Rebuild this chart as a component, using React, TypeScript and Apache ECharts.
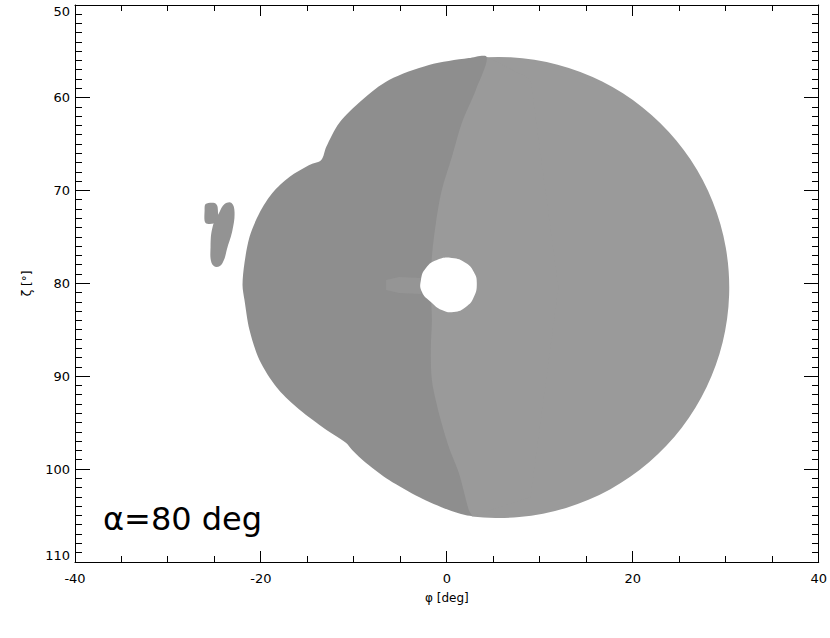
import React, { useEffect, useRef } from "react";
import * as echarts from "echarts";

// Tick values
const xTicks = [-40, -20, 0, 20, 40];
const yTicks = [50, 60, 70, 80, 90, 100, 110];
const xMinorStep = 5;
const yMinorStep = 1;

// Main (lighter) disc: centre [phi, zeta] and radius (deg)
const discCenter = [5.58, 80.43];
const discRadius = 24.83;

// Dark/light boundary inside the disc, top to bottom [phi, zeta]
const boundaryCurve: number[][] = [
  [4.29, 55.6], [3.11, 59.16], [1.61, 62.71], [0.54, 66.37], [-0.54, 69.93],
  [-1.18, 73.48], [-1.61, 77.15], [-1.72, 80.7], [-1.61, 83.93], [-1.72, 86.84],
  [-1.61, 90.4], [-0.86, 93.95], [0.21, 97.61], [1.29, 100.41], [2.36, 104.4],
  [2.68, 105.05],
];

// Under-fill for the light part (right side inside the disc, left side hidden by the dark part)
const lightFillRight: number[][] = [[9.0, 58.0], [12.0, 80.43], [9.0, 103.0]];
const lightFillLeft: number[][] = [[-6.0, 100.0], [-8.0, 80.0], [-6.0, 60.0]];

// Outer outline of the darker region, bottom to top along the left side
const darkOuterLeft: number[][] = [
  [0.21, 104.4], [-3.0, 103.0], [-6.22, 101.17], [-8.69, 99.34], [-10.19, 97.94],
  [-10.83, 97.18], [-13.4, 95.46], [-16.19, 93.31], [-18.34, 91.15], [-20.16, 88.24],
  [-21.23, 85.01], [-21.77, 81.78], [-21.98, 80.16], [-21.77, 77.79], [-21.23, 74.99],
  [-20.16, 72.41], [-18.77, 70.25], [-16.94, 68.53], [-14.8, 67.24], [-13.51, 66.7],
  [-12.98, 65.3], [-11.58, 62.71], [-9.12, 60.23], [-6.22, 58.08], [-1.93, 56.46],
  [2.36, 55.71],
];

const holeOutline: number[][] = [
  [0.54, 77.25], [2.04, 77.79], [2.9, 78.76], [3.22, 79.95], [2.9, 81.46],
  [2.04, 82.53], [0.75, 83.07], [-0.54, 82.86], [-1.72, 81.99], [-2.68, 80.92],
  [-2.79, 79.62], [-2.25, 78.33], [-1.07, 77.47],
];

const smudgeOutline: number[][] = [
  [-6.54, 79.62], [-5.15, 79.3], [-2.79, 79.41], [-2.79, 81.13], [-5.15, 81.02], [-6.54, 80.7],
];

const blobA: number[][] = [
  [-25.95, 71.44], [-24.99, 71.33], [-24.66, 71.76], [-24.77, 73.38], [-25.95, 73.48], [-26.06, 72.08],
];

const blobB: number[][] = [
  [-23.16, 71.33], [-22.84, 72.3], [-23.06, 74.24], [-23.59, 76.07], [-24.13, 77.79],
  [-24.77, 78.22], [-25.31, 77.79], [-25.42, 76.07], [-25.2, 73.92], [-24.45, 72.3], [-23.91, 71.44],
];

const LIGHT = "#9a9a9a";
const DARK = "#8e8e8e";

function polySeries(name: string, pts: number[][], fill: string, smooth = 0) {
  return {
    type: "custom",
    name,
    xAxisIndex: 0,
    yAxisIndex: 0,
    data: pts,
    silent: true,
    z: 2,
    renderItem: (params: any, api: any) => {
      if (params.dataIndex !== 0) return null;
      const points = pts.map((p) => api.coord(p));
      return {
        type: "polygon",
        shape: { points, smooth },
        style: { fill, stroke: null },
      };
    },
  };
}

const lightSectorSeries = {
  type: "custom",
  name: "lightSector",
  xAxisIndex: 0,
  yAxisIndex: 0,
  data: [[discCenter[0], discCenter[1], discRadius]],
  silent: true,
  z: 2,
  renderItem: (params: any, api: any) => {
    const c = api.coord([api.value(0), api.value(1)]);
    const r = api.size([0, api.value(2)])[1];
    const top = api.coord(boundaryCurve[0]);
    const bot = api.coord(boundaryCurve[boundaryCurve.length - 1]);
    const a0 = Math.atan2(top[1] - c[1], top[0] - c[0]);
    const a1 = Math.atan2(bot[1] - c[1], bot[0] - c[0]);
    return {
      type: "sector",
      shape: { cx: c[0], cy: c[1], r, r0: 0, startAngle: a0, endAngle: a1, clockwise: true },
      style: { fill: LIGHT, stroke: null },
    };
  },
};

const lightInnerSeries = {
  type: "custom",
  name: "lightInner",
  xAxisIndex: 0,
  yAxisIndex: 0,
  data: [discCenter],
  silent: true,
  z: 2,
  renderItem: (params: any, api: any) => {
    const pts = [
      api.coord(boundaryCurve[0]),
      ...lightFillRight.map((p) => api.coord(p)),
      api.coord(boundaryCurve[boundaryCurve.length - 1]),
      ...lightFillLeft.map((p) => api.coord(p)),
    ];
    return {
      type: "polygon",
      shape: { points: pts },
      style: { fill: LIGHT, stroke: null },
    };
  },
};

// Tick marks inside the frame on all four sides, drawn as thin filled rects
function minorValues(major: number[], step: number) {
  const out: number[] = [];
  for (let i = 0; i < major.length - 1; i++) {
    for (let v = major[i] + step; v < major[i + 1] - 1e-9; v += step) out.push(v);
  }
  return out;
}
const xMinorTicks = minorValues(xTicks, xMinorStep);
const yMinorTicks = minorValues(yTicks, yMinorStep);

function tickSeries(name: string, axis: "x" | "y", values: number[], len: number) {
  return {
    type: "custom",
    name,
    xAxisIndex: 0,
    yAxisIndex: 0,
    data: values.map((v) => (axis === "x" ? [v, 80] : [0, v])),
    silent: true,
    z: 20,
    clip: false,
    renderItem: (params: any, api: any) => {
      const style = { fill: "#000", stroke: null };
      if (axis === "x") {
        const v = api.value(0);
        const b = api.coord([v, yTicks[yTicks.length - 1]]);
        const t = api.coord([v, yTicks[0]]);
        const x = Math.floor(b[0]);
        return {
          type: "group",
          children: [
            { type: "rect", shape: { x, y: Math.round(b[1] - len), width: 1, height: Math.round(len) }, style },
            { type: "rect", shape: { x, y: Math.round(t[1]), width: 1, height: Math.round(len) }, style },
          ],
        };
      }
      const v = api.value(1);
      const l = api.coord([xTicks[0], v]);
      const r = api.coord([xTicks[xTicks.length - 1], v]);
      const y = Math.floor(l[1]);
      return {
        type: "group",
        children: [
          { type: "rect", shape: { x: Math.round(l[0]), y, width: Math.round(len), height: 1 }, style },
          { type: "rect", shape: { x: Math.round(r[0] - len), y, width: Math.round(len), height: 1 }, style },
        ],
      };
    },
  };
}

const fontFamily = "DejaVu Sans";

function xAxisDef(pos: string, labels: boolean) {
  return {
    type: "value",
    min: xTicks[0],
    max: xTicks[xTicks.length - 1],
    interval: 20,
    position: pos,
    name: labels ? "φ [deg]" : "",
    nameLocation: "middle",
    nameGap: 30,
    nameTextStyle: { color: "#000", fontFamily, fontSize: 12 },
    axisLine: { show: true, onZero: false, lineStyle: { color: "#000", width: 1 } },
    axisTick: { show: false },
    minorTick: { show: false },
    splitLine: { show: false },
    minorSplitLine: { show: false },
    axisLabel: { show: labels, color: "#000", fontFamily, fontSize: 13, margin: 10 },
  };
}

function yAxisDef(pos: string, labels: boolean) {
  return {
    type: "value",
    inverse: true,
    min: yTicks[0],
    max: yTicks[yTicks.length - 1],
    interval: 10,
    position: pos,
    name: labels ? "ζ [°]" : "",
    nameLocation: "middle",
    nameGap: 42,
    nameTextStyle: { color: "#000", fontFamily, fontSize: 12 },
    axisLine: { show: true, onZero: false, lineStyle: { color: "#000", width: 1 } },
    axisTick: { show: false },
    minorTick: { show: false },
    splitLine: { show: false },
    minorSplitLine: { show: false },
    axisLabel: {
      show: labels,
      color: "#000",
      fontFamily,
      fontSize: 13,
      margin: 5,
      verticalAlignMinLabel: "top",
      verticalAlignMaxLabel: "bottom",
    },
  };
}

export default function App() {
  const ref = useRef<HTMLDivElement>(null);
  useEffect(() => {
    if (!ref.current) return;
    const chart = echarts.init(ref.current, null, { renderer: "svg" });
    chart.setOption({
      animation: false,
      backgroundColor: "#fff",
      grid: { left: 75, right: 9, top: 5, bottom: 76, containLabel: false },
      xAxis: [xAxisDef("bottom", true), xAxisDef("top", false)],
      yAxis: [yAxisDef("left", true), yAxisDef("right", false)],
      series: [
        lightSectorSeries,
        lightInnerSeries,
        polySeries("dark", [...boundaryCurve, ...darkOuterLeft], DARK, 0.3),
        polySeries("smudge", smudgeOutline, "#959595"),
        polySeries("hole", holeOutline, "#ffffff", 0.5),
        polySeries("blobA", blobA, "#939393", 0.3),
        polySeries("blobB", blobB, "#939393", 0.4),
        tickSeries("xMajorTicks", "x", xTicks, 11),
        tickSeries("xMinorTicks", "x", xMinorTicks, 6),
        tickSeries("yMajorTicks", "y", yTicks, 15),
        tickSeries("yMinorTicks", "y", yMinorTicks, 7),
      ],
      graphic: [
        {
          type: "text",
          left: 103,
          top: 503,
          style: {
            text: "α=80 deg",
            fill: "#000",
            font: `32px "${fontFamily}"`,
          },
        },
      ],
    });
    return () => chart.dispose();
  }, []);
  return (
    <div
      ref={ref}
      style={{ position: "absolute", left: 0, top: 0, width: 830, height: 638 }}
    />
  );
}
